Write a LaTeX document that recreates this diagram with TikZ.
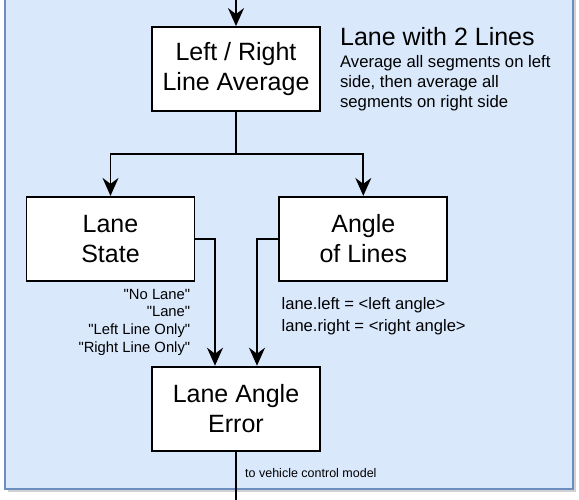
\documentclass[tikz,border=0pt]{standalone}
\usepackage{fontspec}
\setmainfont{Liberation Sans}
\usetikzlibrary{arrows.meta,positioning,calc}

\definecolor{panelfill}{HTML}{DAE8FC}
\definecolor{paneldraw}{HTML}{6C8EBF}
\newcommand{\qt}[1]{\textquotedbl#1\textquotedbl}

\begin{document}
\begin{tikzpicture}[
    box/.style={draw, fill=white, line width=1.8pt, minimum width=168pt, minimum height=84pt, inner sep=0pt, align=center, font=\fontsize{25}{30}\selectfont},
    arr/.style={-{Stealth[length=18pt, width=16pt, inset=6pt]}, line width=1.8pt},
    note/.style={inner sep=0pt, align=left}
]
\useasboundingbox (0,0) rectangle (579pt,-500pt);
% panel with a soft shadow
\fill[black!18] (8pt,8pt) rectangle (576pt,-492pt);
\draw[fill=panelfill, draw=paneldraw, line width=1.2pt] (5pt,10pt) rectangle (573pt,-489pt);

\node[box] (avg) at (236pt,-69pt) {Left / Right\\Line Average};
\node[box, below=84pt of avg, xshift=-125.5pt] (state) {Lane\\State};
\node[box, right=83pt of state] (angle) {Angle\\of Lines};
\node[box, below=84pt of state, xshift=125.5pt] (err) {Lane Angle\\Error};

\coordinate (in) at (236pt,0pt);
\coordinate (split) at ($(avg.south)+(0,-42pt)$);
\coordinate (out) at ($(err.south)+(0,-60pt)$);

\draw[arr] (in) -- (avg);
\draw[line width=1.8pt] (avg.south) -- (split);
\draw[arr] (split) -| (state.north);
\draw[arr] (split) -| (angle.north);
\draw[arr] (state.east) -| ($(err.north)+(-21pt,0)$);
\draw[arr] (angle.west) -| ($(err.north)+(21pt,0)$);
\draw[line width=1.8pt] (err.south) -- (out);

% notes
\node[note, anchor=west, font=\fontsize{25}{30}\selectfont] (title) at ($(avg.north east)+(19pt,-10pt)$) {Lane with 2 Lines};
\node[note, anchor=north west, font=\fontsize{16.7}{20}\selectfont] (desc) at ($(avg.north east)+(19pt,-29pt)$) {Average all segments on left\\side, then average all\\segments on right side};
\node[note, anchor=north east, align=right, font=\fontsize{14.8}{17.7}\selectfont] (states) at ($(state.south east)+(-5pt,-7pt)$) {\qt{No Lane}\\\qt{Lane}\\\qt{Left Line Only}\\\qt{Right Line Only}};
\node[note, anchor=north west, font=\fontsize{16.6}{22}\selectfont] (angles) at ($(angle.south west)+(3pt,-16pt)$) {lane.left = <left angle>\\lane.right = <right angle>};
\node[note, anchor=west, font=\fontsize{12.5}{14}\selectfont] (tocontrol) at ($(err.south)+(9pt,-22pt)$) {to vehicle control model};
\end{tikzpicture}
\end{document}
